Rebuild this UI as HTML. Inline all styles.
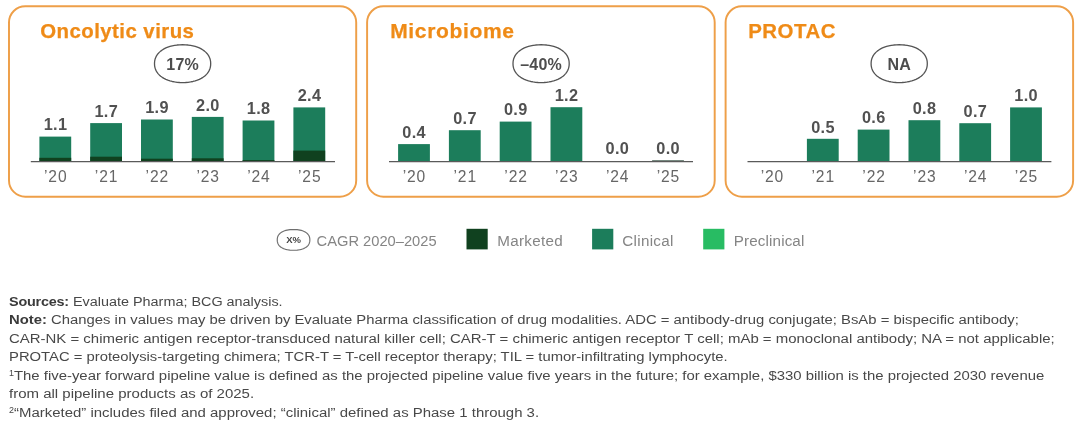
<!DOCTYPE html>
<html lang="en"><head><meta charset="utf-8"><title>Chart</title>
<style>
html,body{margin:0;padding:0;background:#fff;}
body{width:1080px;height:423px;position:relative;overflow:hidden;font-family:"Liberation Sans",sans-serif;}
.abs{position:absolute;}
.title{position:absolute;top:17.5px;font-weight:bold;font-size:20.4px;line-height:26px;color:#ef8b17;white-space:nowrap;-webkit-text-stroke:0.25px #ef8b17;}
.ell{position:absolute;top:45.6px;width:57.4px;height:38.5px;margin-left:-28.7px;text-align:center;font-weight:bold;font-size:16px;line-height:38.5px;color:#4d4d4d;letter-spacing:0.2px;}
.val{position:absolute;width:60px;margin-left:-30px;text-align:center;font-weight:bold;font-size:16.3px;line-height:18px;color:#515151;letter-spacing:0.35px;padding-left:0.35px;box-sizing:border-box;}
.yr{position:absolute;top:166.6px;width:60px;margin-left:-30px;text-align:center;font-size:15.6px;line-height:20px;color:#666;letter-spacing:0.9px;padding-left:0.9px;box-sizing:border-box;}
.leg{position:absolute;top:231.5px;font-size:15.2px;line-height:18px;color:#858585;white-space:nowrap;letter-spacing:0.3px;}
.fn{position:absolute;left:8.9px;font-size:13.7px;line-height:18.5px;color:#484848;white-space:nowrap;transform-origin:0 50%;}
.fn b{color:#3a3a3a}
.fn sup{font-size:8.2px;line-height:0;vertical-align:4.2px}
</style></head><body>

<svg class="abs" style="left:0;top:0" width="1080" height="423" viewBox="0 0 1080 423" fill="none">
<rect x="9.0" y="6.2" width="347.2" height="190.5" rx="16.3" ry="16.3" stroke="#ee9f48" stroke-width="1.95"/>
<path d="M210.70,63.65 L210.60,65.60 L210.30,67.36 L209.81,69.03 L209.12,70.62 L208.24,72.13 L207.18,73.57 L205.94,74.92 L204.53,76.18 L202.96,77.34 L201.23,78.40 L199.35,79.35 L197.35,80.18 L195.21,80.90 L192.96,81.49 L190.59,81.95 L188.11,82.28 L185.50,82.48 L182.60,82.55 L179.70,82.48 L177.09,82.28 L174.61,81.95 L172.24,81.49 L169.99,80.90 L167.85,80.18 L165.85,79.35 L163.97,78.40 L162.24,77.34 L160.67,76.18 L159.26,74.92 L158.02,73.57 L156.96,72.13 L156.08,70.62 L155.39,69.03 L154.90,67.36 L154.60,65.60 L154.50,63.65 L154.60,61.70 L154.90,59.94 L155.39,58.27 L156.08,56.68 L156.96,55.17 L158.02,53.73 L159.26,52.38 L160.67,51.12 L162.24,49.96 L163.97,48.90 L165.85,47.95 L167.85,47.12 L169.99,46.40 L172.24,45.81 L174.61,45.35 L177.09,45.02 L179.70,44.82 L182.60,44.75 L185.50,44.82 L188.11,45.02 L190.59,45.35 L192.96,45.81 L195.21,46.40 L197.35,47.12 L199.35,47.95 L201.23,48.90 L202.96,49.96 L204.53,51.12 L205.94,52.38 L207.18,53.73 L208.24,55.17 L209.12,56.68 L209.81,58.27 L210.30,59.94 L210.60,61.70Z" stroke="#555" stroke-width="1.3" stroke-linejoin="round"/>
<rect x="39.4" y="136.6" width="31.8" height="24.8" fill="#1c7d5b"/>
<rect x="39.4" y="157.8" width="31.8" height="3.6" fill="#10411f"/>
<rect x="90.2" y="123.1" width="31.8" height="38.3" fill="#1c7d5b"/>
<rect x="90.2" y="156.7" width="31.8" height="4.7" fill="#10411f"/>
<rect x="141.0" y="119.5" width="31.8" height="41.9" fill="#1c7d5b"/>
<rect x="141.0" y="158.7" width="31.8" height="2.7" fill="#10411f"/>
<rect x="191.8" y="116.9" width="31.8" height="44.5" fill="#1c7d5b"/>
<rect x="191.8" y="158.3" width="31.8" height="3.1" fill="#10411f"/>
<rect x="242.6" y="120.5" width="31.8" height="40.9" fill="#1c7d5b"/>
<rect x="242.6" y="160.1" width="31.8" height="1.3" fill="#10411f"/>
<rect x="293.4" y="107.4" width="31.8" height="54.0" fill="#1c7d5b"/>
<rect x="293.4" y="150.6" width="31.8" height="10.8" fill="#10411f"/>
<rect x="30.8" y="161" width="304.2" height="1.25" fill="#5a5a5a"/>
<rect x="367.1" y="6.2" width="347.6" height="190.5" rx="16.3" ry="16.3" stroke="#ee9f48" stroke-width="1.95"/>
<path d="M569.20,63.65 L569.10,65.60 L568.80,67.36 L568.31,69.03 L567.62,70.62 L566.74,72.13 L565.68,73.57 L564.44,74.92 L563.03,76.18 L561.46,77.34 L559.73,78.40 L557.85,79.35 L555.85,80.18 L553.71,80.90 L551.46,81.49 L549.09,81.95 L546.61,82.28 L544.00,82.48 L541.10,82.55 L538.20,82.48 L535.59,82.28 L533.11,81.95 L530.74,81.49 L528.49,80.90 L526.35,80.18 L524.35,79.35 L522.47,78.40 L520.74,77.34 L519.17,76.18 L517.76,74.92 L516.52,73.57 L515.46,72.13 L514.58,70.62 L513.89,69.03 L513.40,67.36 L513.10,65.60 L513.00,63.65 L513.10,61.70 L513.40,59.94 L513.89,58.27 L514.58,56.68 L515.46,55.17 L516.52,53.73 L517.76,52.38 L519.17,51.12 L520.74,49.96 L522.47,48.90 L524.35,47.95 L526.35,47.12 L528.49,46.40 L530.74,45.81 L533.11,45.35 L535.59,45.02 L538.20,44.82 L541.10,44.75 L544.00,44.82 L546.61,45.02 L549.09,45.35 L551.46,45.81 L553.71,46.40 L555.85,47.12 L557.85,47.95 L559.73,48.90 L561.46,49.96 L563.03,51.12 L564.44,52.38 L565.68,53.73 L566.74,55.17 L567.62,56.68 L568.31,58.27 L568.80,59.94 L569.10,61.70Z" stroke="#555" stroke-width="1.3" stroke-linejoin="round"/>
<rect x="398.1" y="144.1" width="31.8" height="17.3" fill="#1c7d5b"/>
<rect x="448.9" y="130.2" width="31.8" height="31.2" fill="#1c7d5b"/>
<rect x="499.7" y="121.6" width="31.8" height="39.8" fill="#1c7d5b"/>
<rect x="550.5" y="107.2" width="31.8" height="54.2" fill="#1c7d5b"/>
<rect x="652.1" y="160.4" width="31.8" height="1.6" fill="#1f3d2e"/>
<rect x="389" y="161" width="304" height="1.25" fill="#5a5a5a"/>
<rect x="725.6" y="6.2" width="347.5" height="190.5" rx="16.3" ry="16.3" stroke="#ee9f48" stroke-width="1.95"/>
<path d="M927.30,63.65 L927.20,65.60 L926.90,67.36 L926.41,69.03 L925.72,70.62 L924.84,72.13 L923.78,73.57 L922.54,74.92 L921.13,76.18 L919.56,77.34 L917.83,78.40 L915.95,79.35 L913.95,80.18 L911.81,80.90 L909.56,81.49 L907.19,81.95 L904.71,82.28 L902.10,82.48 L899.20,82.55 L896.30,82.48 L893.69,82.28 L891.21,81.95 L888.84,81.49 L886.59,80.90 L884.45,80.18 L882.45,79.35 L880.57,78.40 L878.84,77.34 L877.27,76.18 L875.86,74.92 L874.62,73.57 L873.56,72.13 L872.68,70.62 L871.99,69.03 L871.50,67.36 L871.20,65.60 L871.10,63.65 L871.20,61.70 L871.50,59.94 L871.99,58.27 L872.68,56.68 L873.56,55.17 L874.62,53.73 L875.86,52.38 L877.27,51.12 L878.84,49.96 L880.57,48.90 L882.45,47.95 L884.45,47.12 L886.59,46.40 L888.84,45.81 L891.21,45.35 L893.69,45.02 L896.30,44.82 L899.20,44.75 L902.10,44.82 L904.71,45.02 L907.19,45.35 L909.56,45.81 L911.81,46.40 L913.95,47.12 L915.95,47.95 L917.83,48.90 L919.56,49.96 L921.13,51.12 L922.54,52.38 L923.78,53.73 L924.84,55.17 L925.72,56.68 L926.41,58.27 L926.90,59.94 L927.20,61.70Z" stroke="#555" stroke-width="1.3" stroke-linejoin="round"/>
<rect x="806.9" y="138.8" width="31.8" height="22.6" fill="#1c7d5b"/>
<rect x="857.7" y="129.6" width="31.8" height="31.8" fill="#1c7d5b"/>
<rect x="908.5" y="120.2" width="31.8" height="41.2" fill="#1c7d5b"/>
<rect x="959.3" y="123.2" width="31.8" height="38.2" fill="#1c7d5b"/>
<rect x="1010.1" y="107.4" width="31.8" height="54.0" fill="#1c7d5b"/>
<rect x="747.5" y="161" width="303.9000000000001" height="1.25" fill="#5a5a5a"/>
<path d="M309.85,239.90 L309.80,241.14 L309.63,242.16 L309.37,243.10 L308.99,243.97 L308.51,244.79 L307.93,245.56 L307.25,246.28 L306.48,246.95 L305.61,247.56 L304.65,248.11 L303.60,248.60 L302.47,249.03 L301.26,249.40 L299.96,249.71 L298.58,249.94 L297.11,250.11 L295.50,250.22 L293.55,250.25 L291.60,250.22 L289.99,250.11 L288.52,249.94 L287.14,249.71 L285.84,249.40 L284.63,249.03 L283.50,248.60 L282.45,248.11 L281.49,247.56 L280.62,246.95 L279.85,246.28 L279.17,245.56 L278.59,244.79 L278.11,243.97 L277.73,243.10 L277.47,242.16 L277.30,241.14 L277.25,239.90 L277.30,238.66 L277.47,237.64 L277.73,236.70 L278.11,235.83 L278.59,235.01 L279.17,234.24 L279.85,233.52 L280.62,232.85 L281.49,232.24 L282.45,231.69 L283.50,231.20 L284.63,230.77 L285.84,230.40 L287.14,230.09 L288.52,229.86 L289.99,229.69 L291.60,229.58 L293.55,229.55 L295.50,229.58 L297.11,229.69 L298.58,229.86 L299.96,230.09 L301.26,230.40 L302.47,230.77 L303.60,231.20 L304.65,231.69 L305.61,232.24 L306.48,232.85 L307.25,233.52 L307.93,234.24 L308.51,235.01 L308.99,235.83 L309.37,236.70 L309.63,237.64 L309.80,238.66Z" stroke="#6e6e6e" stroke-width="1.15" stroke-linejoin="round"/>
<rect x="466.5" y="228.8" width="21.2" height="20.6" fill="#10411f"/>
<rect x="592.1" y="228.8" width="21.2" height="20.6" fill="#1c7d5b"/>
<rect x="703.2" y="228.8" width="21.2" height="20.6" fill="#28bc63"/>
</svg>
<div class="title" style="left:40.3px;letter-spacing:0.45px;font-size:20.4px">Oncolytic virus</div>
<div class="ell" style="left:182.6px">17%</div>
<div class="val" style="left:55.3px;top:115.2px">1.1</div>
<div class="yr" style="left:55.3px">’20</div>
<div class="val" style="left:106.1px;top:101.8px">1.7</div>
<div class="yr" style="left:106.1px">’21</div>
<div class="val" style="left:156.9px;top:98.2px">1.9</div>
<div class="yr" style="left:156.9px">’22</div>
<div class="val" style="left:207.7px;top:95.6px">2.0</div>
<div class="yr" style="left:207.7px">’23</div>
<div class="val" style="left:258.5px;top:99.2px">1.8</div>
<div class="yr" style="left:258.5px">’24</div>
<div class="val" style="left:309.3px;top:86.1px">2.4</div>
<div class="yr" style="left:309.3px">’25</div>
<div class="title" style="left:390.2px;letter-spacing:0.65px;font-size:21px">Microbiome</div>
<div class="ell" style="left:541.1px">–40%</div>
<div class="val" style="left:414.0px;top:122.8px">0.4</div>
<div class="yr" style="left:414.0px">’20</div>
<div class="val" style="left:464.8px;top:108.9px">0.7</div>
<div class="yr" style="left:464.8px">’21</div>
<div class="val" style="left:515.6px;top:100.2px">0.9</div>
<div class="yr" style="left:515.6px">’22</div>
<div class="val" style="left:566.4px;top:85.8px">1.2</div>
<div class="yr" style="left:566.4px">’23</div>
<div class="val" style="left:617.2px;top:138.7px">0.0</div>
<div class="yr" style="left:617.2px">’24</div>
<div class="val" style="left:668.0px;top:138.7px">0.0</div>
<div class="yr" style="left:668.0px">’25</div>
<div class="title" style="left:748.2px;letter-spacing:0.52px;font-size:20.4px">PROTAC</div>
<div class="ell" style="left:899.2px">NA</div>
<div class="yr" style="left:772.0px">’20</div>
<div class="val" style="left:822.8px;top:117.5px">0.5</div>
<div class="yr" style="left:822.8px">’21</div>
<div class="val" style="left:873.6px;top:108.2px">0.6</div>
<div class="yr" style="left:873.6px">’22</div>
<div class="val" style="left:924.4px;top:98.8px">0.8</div>
<div class="yr" style="left:924.4px">’23</div>
<div class="val" style="left:975.2px;top:101.8px">0.7</div>
<div class="yr" style="left:975.2px">’24</div>
<div class="val" style="left:1026.0px;top:86.1px">1.0</div>
<div class="yr" style="left:1026.0px">’25</div>

<div class="abs" style="left:276.7px;top:229.2px;width:33.7px;height:21.8px;text-align:center;font-weight:bold;font-size:9.5px;line-height:21.8px;color:#444">X%</div>
<div class="leg" style="left:316.6px;top:231.7px;font-size:14.7px;letter-spacing:0">CAGR 2020–2025</div>
<div class="leg" style="left:497.3px">Marketed</div>
<div class="leg" style="left:622.3px">Clinical</div>
<div class="leg" style="left:733.8px;letter-spacing:0.13px">Preclinical</div>

<div class="fn" id="fn0" style="top:292.9px;transform:scaleX(1.0519)"><b style="letter-spacing:-0.2px">Sources:</b> Evaluate Pharma; BCG analysis.</div>
<div class="fn" id="fn1" style="top:311.4px;transform:scaleX(1.0844)"><b>Note:</b> Changes in values may be driven by Evaluate Pharma classification of drug modalities. ADC = antibody-drug conjugate; BsAb = bispecific antibody;</div>
<div class="fn" id="fn2" style="top:329.9px;transform:scaleX(1.0926)">CAR-NK = chimeric antigen receptor-transduced natural killer cell; CAR-T = chimeric antigen receptor T cell; mAb = monoclonal antibody; NA = not applicable;</div>
<div class="fn" id="fn3" style="top:348.4px;transform:scaleX(1.0819)">PROTAC = proteolysis-targeting chimera; TCR-T = T-cell receptor therapy; TIL = tumor-infiltrating lymphocyte.</div>
<div class="fn" id="fn4" style="top:366.9px;transform:scaleX(1.0885)"><sup>1</sup>The five-year forward pipeline value is defined as the projected pipeline value five years in the future; for example, $330 billion is the projected 2030 revenue</div>
<div class="fn" id="fn5" style="top:385.4px;transform:scaleX(1.0957)">from all pipeline products as of 2025.</div>
<div class="fn" id="fn6" style="top:403.9px;transform:scaleX(1.0920)"><sup>2</sup>“Marketed” includes filed and approved; “clinical” defined as Phase 1 through 3.</div>
</body></html>
